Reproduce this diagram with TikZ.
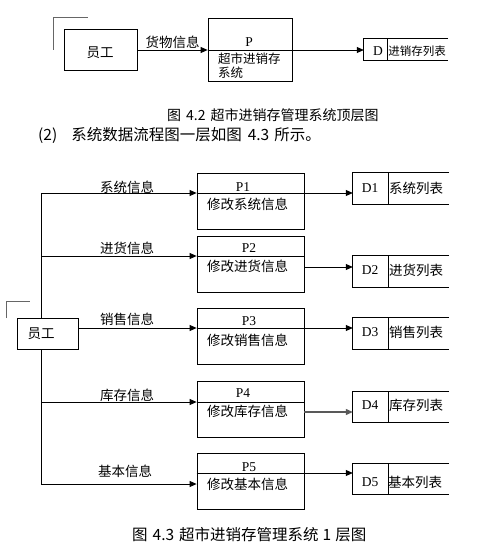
\documentclass[tikz,border=0pt]{standalone}
\usepackage{fontspec}
\setmainfont{Liberation Serif}
\newfontfamily\cjk{Noto Sans CJK SC}
\usetikzlibrary{arrows.meta}
\tikzset{
  ln/.style={line width=0.8pt, draw=black},
  arr/.style={ln, -{Triangle[length=7pt,width=6pt]}},
  pbox/.style={draw, line width=0.8pt, rectangle, inner sep=0pt, minimum width=107pt, minimum height=56pt},
  dstore/.style={rectangle, inner sep=0pt, minimum width=96pt, minimum height=31pt},
  zh/.style={font=\cjk\fontsize{13.5}{16}\selectfont, inner sep=0pt},
  zhs/.style={font=\cjk\fontsize{12.5}{14}\selectfont, inner sep=0pt},
  lat/.style={font=\fontsize{13.5}{16}\selectfont, inner sep=0pt},
  captext/.style={font=\cjk\fontsize{14}{16}\selectfont, inner sep=0pt},
  bodytext/.style={font=\cjk\fontsize{15.5}{18}\selectfont, inner sep=0pt},
  ent/.style={draw, line width=0.8pt, rectangle, inner sep=0pt},
  cornermark/.style={line width=1pt, draw=black!60},
}
\begin{document}
\begin{tikzpicture}[x=1pt,y=-1pt]
\useasboundingbox (0,0) rectangle (503,548);
\fill[white] (0,0) rectangle (503,548);

% ---------- top level diagram ----------
\draw[cornermark] (53,50) -- (53,18) -- (88,18);
\node[ent, minimum width=73pt, minimum height=41pt] (e0) at (100.5,49.5) {};
\node[zh] (e0t) at (100,53) {员工};
\node[draw, line width=0.8pt, rectangle, inner sep=0pt, minimum width=84pt, minimum height=63pt] (p0) at (250,49.5) {};
\node[lat] (p0t) at (249,42) {P};
\node[zhs, anchor=west] (p0a) at (218,59) {超市进销存};
\node[zhs, anchor=west] (p0b) at (218,73) {系统};
\node[dstore, minimum width=84pt, minimum height=21pt] (d0) at (406,49.5) {};
\draw[ln] (d0.north east) -- (d0.north west) -- (d0.south west) -- (d0.south east);
\draw[ln] ([xshift=24pt]d0.north west) -- ([xshift=24pt]d0.south west);
\node[lat] (d0l) at (378,51) {D};
\node[font=\cjk\fontsize{11.5}{14}\selectfont, inner sep=0pt] (d0t) at (417,51) {进销存列表};
\draw[arr] (e0.east |- 0,50) -- (p0.west |- 0,50) node[midway, above=1pt, zh] (l0) {货物信息};
\draw[ln] (p0.west |- 0,50) -- (p0.east |- 0,50);
\draw[arr] (p0.east |- 0,50) -- (d0.west |- 0,50);

% ---------- captions ----------
\node[captext, anchor=west] (c1) at (167,115) {图\hspace{5pt}4.2\hspace{5pt}超市进销存管理系统顶层图};
\node[bodytext, anchor=west] (c2) at (38,135) {(2)\hspace{14pt}系统数据流程图一层如图\hspace{6pt}4.3\hspace{5pt}所示。};
\node[bodytext, anchor=west] (c3) at (132,535) {图\hspace{5pt}4.3\hspace{5pt}超市进销存管理系统\hspace{4pt}1\hspace{4pt}层图};

% ---------- level-1 diagram ----------
\draw[cornermark] (6,318) -- (6,301) -- (30,301);
\node[ent, minimum width=61pt, minimum height=31pt] (e1) at (47.5,333.5) {};
\node[zh] (e1t) at (41,334) {员工};
\coordinate (ttop) at (41,193);
\coordinate (tbot) at (41,484);
\draw[ln] (e1.north -| ttop) -- (ttop);
\draw[ln] (e1.south -| ttop) -- (tbot);

% process boxes
\node[pbox] (p1) at (250.5,201) {};
\node[pbox] (p2) at (250.5,264) {};
\node[pbox] (p3) at (250.5,336) {};
\node[pbox] (p4) at (250.5,409) {};
\node[pbox] (p5) at (250.5,481.5) {};

% stores
\node[dstore] (d1) at (401,188.5) {};
\node[dstore] (d2) at (401,271.5) {};
\node[dstore] (d3) at (401,333.5) {};
\node[dstore] (d4) at (401,407) {};
\node[dstore] (d5) at (401,479) {};
\foreach \d in {d1,d2,d3,d4,d5}{
  \draw[ln] (\d.north east) -- (\d.north west) -- (\d.south west) -- (\d.south east);
  \draw[ln] ([xshift=36pt]\d.north west) -- ([xshift=36pt]\d.south west);
}

% dividers inside processes
\draw[ln] (p1.west |- 0,193) -- (p1.east |- 0,193);
\draw[ln] (p2.west |- 0,256) -- (p2.east |- 0,256);
\draw[ln] (p3.west |- 0,328) -- (p3.east |- 0,328);
\draw[ln] (p4.west |- 0,402) -- (p4.east |- 0,402);
\draw[ln] (p5.west |- 0,473) -- (p5.east |- 0,473);

% flows from staff
\draw[arr] (ttop) -- (p1.west |- ttop);
\draw[arr] (41,256) -- (p2.west |- 0,256);
\draw[arr] (e1.east |- 0,328) -- (p3.west |- 0,328);
\draw[arr] (41,402) -- (p4.west |- 0,402);
\draw[arr] (tbot) -- (p5.west |- tbot);

\node[zh] (f1) at (127,187) {系统信息};
\node[zh] (f2) at (127,248) {进货信息};
\node[zh] (f3) at (127,319) {销售信息};
\node[zh] (f4) at (127,395) {库存信息};
\node[zh] (f5) at (125,471) {基本信息};

% flows to stores
\draw[arr] (p1.east |- 0,193) -- (d1.west |- 0,193);
\draw[arr] (p2.east |- 0,267) -- (d2.west |- 0,267);
\draw[arr] (p3.east |- 0,328) -- (d3.west |- 0,328);
\draw[arr, line width=1.2pt, draw=black!65] (p4.east |- 0,412) -- (d4.west |- 0,412);
\draw[arr] (p5.east |- 0,473) -- (d5.west |- 0,473);

% process texts
\node[lat] (p1l) at (243,187) {P1};
\node[lat] (p2l) at (249,248) {P2};
\node[lat] (p3l) at (249,321) {P3};
\node[lat] (p4l) at (243,393) {P4};
\node[lat] (p5l) at (249,467) {P5};
\node[zh, anchor=west] (p1d) at (207,204) {修改系统信息};
\node[zh, anchor=west] (p2d) at (207,266) {修改进货信息};
\node[zh, anchor=west] (p3d) at (207,340) {修改销售信息};
\node[zh, anchor=west] (p4d) at (207,411) {修改库存信息};
\node[zh, anchor=west] (p5d) at (207,484) {修改基本信息};

% store texts
\node[lat] (d1l) at (370,188) {D1};
\node[lat] (d2l) at (370,270) {D2};
\node[lat] (d3l) at (370,332) {D3};
\node[lat] (d4l) at (370,405) {D4};
\node[lat] (d5l) at (370,482) {D5};
\node[zh] (d1t) at (416,188) {系统列表};
\node[zh] (d2t) at (416,270) {进货列表};
\node[zh] (d3t) at (416,332) {销售列表};
\node[zh] (d4t) at (416,405) {库存列表};
\node[zh] (d5t) at (415,482) {基本列表};
\end{tikzpicture}
\end{document}
